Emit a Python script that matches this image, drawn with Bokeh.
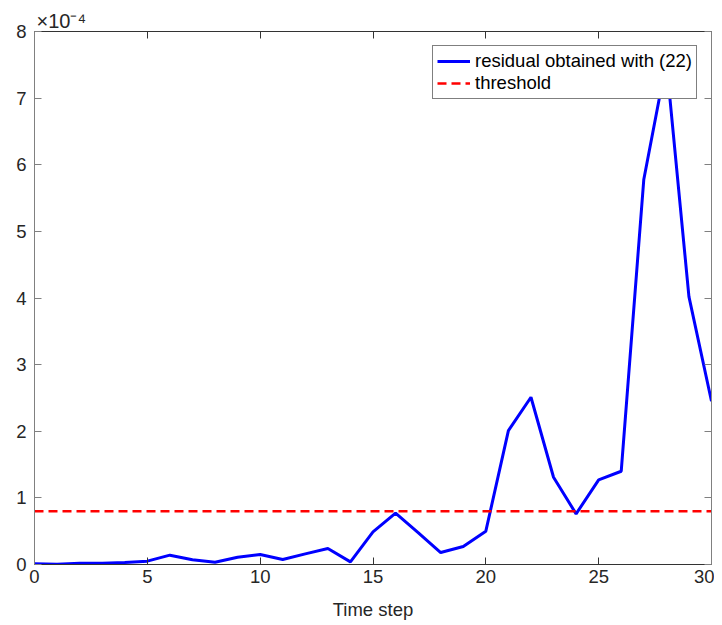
from bokeh.plotting import figure
from bokeh.models import Range1d, LinearAxis, FixedTicker, Legend, LegendItem
from bokeh.embed import file_html
from bokeh.resources import INLINE

# ---- data (values in units of 1e-4) ----
time_step = list(range(0, 31))
residual = [0.01, 0.005, 0.02, 0.02, 0.03, 0.05, 0.14, 0.07, 0.035, 0.11,
            0.15, 0.075, 0.16, 0.24, 0.04, 0.49, 0.77, 0.48, 0.18, 0.27,
            0.50, 2.01, 2.51, 1.31, 0.76, 1.27, 1.40, 5.78, 7.55, 4.02, 2.45]
threshold = 0.80
x_ticks = [0, 5, 10, 15, 20, 25, 30]
y_ticks = [0, 1, 2, 3, 4, 5, 6, 7, 8]

FONT = "Liberation Sans"
TXT = "#262626"
FS = "18.5px"

p = figure(width=714, height=622, output_backend="svg", toolbar_location=None,
           x_range=Range1d(0, 30), y_range=Range1d(0, 8),
           min_border_left=34, min_border_right=3, min_border_top=31, min_border_bottom=58,
           x_axis_label="Time step")
p.background_fill_color = "white"
p.border_fill_color = "white"
p.outline_line_color = None
p.grid.visible = False

p.title.text = "×10⁻⁴"
p.title.align = "left"
p.title.text_font = FONT
p.title.text_font_size = "20px"
p.title.text_font_style = "normal"
p.title.text_color = TXT
p.title.offset = 2
p.title.standoff = 0

for ax in p.xaxis:
    ax.ticker = FixedTicker(ticks=x_ticks)
for ax in p.yaxis:
    ax.ticker = FixedTicker(ticks=y_ticks)

def style(ax, color, show_labels=True):
    ax.axis_line_color = color
    ax.major_tick_line_color = color
    ax.major_tick_in = 7
    ax.major_tick_out = 0
    ax.minor_tick_line_color = None
    ax.major_label_text_font = FONT
    ax.major_label_text_font_size = FS
    ax.major_label_text_color = TXT
    ax.axis_label_text_font = FONT
    ax.axis_label_text_font_size = FS
    ax.axis_label_text_font_style = "normal"
    ax.axis_label_text_color = TXT
    if not show_labels:
        ax.major_label_text_font_size = "0px"
        ax.major_label_text_color = None

style(p.xaxis[0], "#333333")
p.xaxis[0].major_label_standoff = 5
p.xaxis[0].axis_label_standoff = 13
style(p.yaxis[0], "#808080")
p.yaxis[0].major_label_standoff = 8

top = LinearAxis(ticker=FixedTicker(ticks=x_ticks))
style(top, "#333333", show_labels=False)
top.major_label_standoff = 0
p.add_layout(top, "above")
right = LinearAxis(ticker=FixedTicker(ticks=y_ticks))
style(right, "#808080", show_labels=False)
right.major_label_standoff = 0
p.add_layout(right, "right")

r1 = p.line(time_step, residual, line_color="#0000ff", line_width=3)
r2 = p.line([0, 30], [threshold, threshold], line_color="#ff0000", line_width=2.5,
            line_dash="9 5")

legend = Legend(items=[LegendItem(label="residual obtained with (22)", renderers=[r1]),
                       LegendItem(label="threshold", renderers=[r2])],
                location="top_right", margin=14, padding=4, spacing=0,
                label_text_font=FONT, label_text_font_size=FS, label_text_color="#000000",
                label_height=22, glyph_height=22, glyph_width=33, label_standoff=5,
                border_line_color="#000000", border_line_width=1,
                background_fill_color="white", background_fill_alpha=1.0)
p.add_layout(legend, "center")

open("out.html", "w").write(file_html(p, INLINE))
